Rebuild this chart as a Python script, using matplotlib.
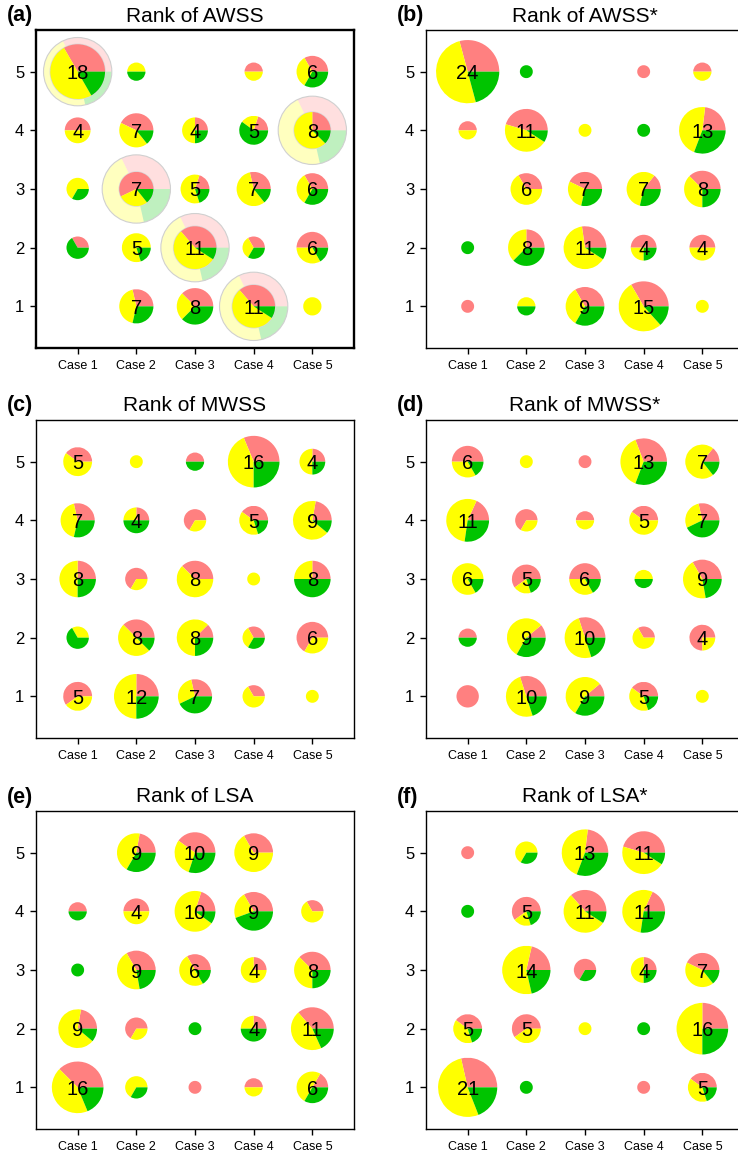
import numpy as np
import matplotlib.pyplot as plt
from matplotlib.patches import Wedge, Circle

plt.rcParams['font.family'] = ['Liberation Sans', 'DejaVu Sans']

cases = ['Case 1', 'Case 2', 'Case 3', 'Case 4', 'Case 5']
ranks = [5, 4, 3, 2, 1]          # rows of the tables below, top to bottom
colors = ['#ff8080', '#ffff00', '#00c400']

# counts per (rank, case): red / yellow / green events
awss_red = [[6, 0, 0, 1, 2], [2, 3, 1, 1, 2], [0, 4, 1, 2, 2], [1, 0, 4, 1, 3], [0, 2, 3, 4, 0]]
awss_yel = [[9, 1, 0, 1, 2], [2, 3, 2, 1, 5], [2, 2, 3, 4, 2], [0, 4, 6, 1, 2], [0, 3, 2, 6, 2]]
awss_grn = [[3, 1, 0, 0, 2], [0, 1, 1, 3, 1], [1, 1, 1, 1, 2], [2, 1, 1, 1, 1], [0, 2, 3, 1, 0]]

awss2_red = [[7, 0, 0, 1, 1], [1, 5, 0, 0, 3], [0, 2, 3, 1, 3], [0, 2, 3, 2, 2], [1, 0, 3, 5, 0]]
awss2_yel = [[12, 0, 0, 0, 1], [1, 5, 1, 0, 6], [0, 4, 2, 4, 3], [0, 3, 7, 1, 2], [0, 1, 3, 8, 1]]
awss2_grn = [[5, 1, 0, 0, 0], [0, 1, 0, 1, 4], [0, 0, 2, 2, 2], [1, 3, 1, 1, 0], [0, 1, 3, 2, 0]]

mwss_red = [[2, 0, 1, 5, 1], [2, 1, 2, 2, 2], [2, 2, 3, 0, 2], [0, 3, 1, 1, 4], [3, 3, 2, 1, 0]]
mwss_yel = [[3, 1, 0, 7, 2], [3, 1, 1, 2, 6], [4, 1, 5, 1, 2], [1, 4, 5, 1, 2], [2, 6, 2, 2, 1]]
mwss_grn = [[0, 0, 1, 4, 1], [2, 2, 0, 1, 1], [2, 0, 0, 0, 4], [2, 1, 2, 1, 0], [0, 3, 3, 0, 0]]

mwss2_red = [[3, 0, 1, 4, 1], [2, 2, 1, 2, 2], [0, 3, 3, 0, 3], [1, 1, 3, 1, 3], [3, 3, 1, 2, 0]]
mwss2_yel = [[2, 1, 0, 5, 5], [6, 1, 1, 3, 2], [5, 1, 2, 1, 4], [0, 5, 5, 2, 1], [0, 5, 5, 2, 1]]
mwss2_grn = [[1, 0, 0, 4, 1], [3, 0, 0, 0, 3], [1, 1, 1, 1, 2], [1, 3, 2, 0, 0], [0, 2, 3, 1, 0]]

lsa_red = [[0, 2, 4, 3, 0], [1, 2, 2, 3, 1], [0, 3, 2, 1, 3], [2, 2, 0, 1, 4], [6, 0, 1, 1, 1]]
lsa_yel = [[0, 4, 3, 6, 0], [0, 2, 7, 2, 2], [0, 4, 3, 3, 3], [6, 1, 0, 1, 5], [7, 2, 0, 1, 3]]
lsa_grn = [[0, 3, 3, 0, 0], [1, 0, 1, 4, 0], [1, 2, 1, 0, 2], [1, 0, 1, 2, 2], [3, 1, 0, 0, 2]]

lsa2_red = [[1, 0, 3, 5, 0], [0, 3, 4, 2, 0], [0, 3, 2, 1, 3], [2, 3, 0, 0, 4], [6, 0, 0, 1, 2]]
lsa2_yel = [[0, 2, 6, 5, 0], [0, 1, 6, 6, 0], [0, 8, 0, 2, 3], [2, 2, 1, 0, 8], [11, 0, 0, 0, 2]]
lsa2_grn = [[0, 1, 4, 1, 0], [1, 1, 1, 3, 0], [0, 3, 1, 1, 1], [1, 0, 0, 1, 4], [4, 1, 0, 0, 1]]

# (case, rank) cells of panel (a) drawn with the full-sample pie behind them
awss_marked = [(1, 5), (2, 3), (3, 2), (4, 1), (5, 4)]

panels = [
    ('(a)', 'Rank of AWSS', awss_red, awss_yel, awss_grn),
    ('(b)', 'Rank of AWSS*', awss2_red, awss2_yel, awss2_grn),
    ('(c)', 'Rank of MWSS', mwss_red, mwss_yel, mwss_grn),
    ('(d)', 'Rank of MWSS*', mwss2_red, mwss2_yel, mwss2_grn),
    ('(e)', 'Rank of LSA', lsa_red, lsa_yel, lsa_grn),
    ('(f)', 'Rank of LSA*', lsa2_red, lsa2_yel, lsa2_grn),
]

W, H = 738, 1156
fig = plt.figure(figsize=(W / 100, H / 100), dpi=100)

lefts = [36, 426]
tops = [30, 420, 811]
size = 318
r_unit = 0.11   # pie radius = r_unit * sqrt(count)


def draw_pie(ax, x, y, counts, radius, alpha=1.0, z=2):
    total = sum(counts)
    start = 0.0
    for n, c in zip(counts, colors):
        if n == 0:
            continue
        end = start + 360.0 * n / total
        ax.add_patch(Wedge((x, y), radius, start, end, facecolor=c,
                           edgecolor='none', alpha=alpha, zorder=z))
        start = end


for k, (letter, title, red, yel, grn) in enumerate(panels):
    row, col = divmod(k, 2)
    left, top = lefts[col], tops[row]
    ax = fig.add_axes([left / W, 1 - (top + size) / H, size / W, size / H])
    ax.set_xlim(0.29, 5.71)
    ax.set_ylim(0.29, 5.71)
    ax.set_xticks(range(1, 6))
    ax.set_xticklabels(cases)
    ax.set_yticks(range(1, 6))
    ax.tick_params(axis='x', length=4.5, width=1, labelsize=9, pad=4)
    ax.tick_params(axis='y', length=4.5, width=1, labelsize=12, pad=4)
    for s in ax.spines.values():
        s.set_linewidth(1.7 if k == 0 else 1.0)

    red = np.array(red)
    yel = np.array(yel)
    grn = np.array(grn)
    totals = red + yel + grn
    col_sums = [red[:, 0].sum(), yel[:, 0].sum(), grn[:, 0].sum()]

    for i, rank in enumerate(ranks):
        for j in range(5):
            n = totals[i, j]
            if n == 0:
                continue
            x = j + 1
            if k == 0 and (x, rank) in awss_marked:
                big = r_unit * np.sqrt(sum(col_sums))
                draw_pie(ax, x, rank, col_sums, big, alpha=0.25, z=1)
                ax.add_patch(Circle((x, rank), big, facecolor='none',
                                    edgecolor='#d0d0d0', lw=0.8, zorder=1))
                ax.add_patch(Circle((x, rank), r_unit * np.sqrt(n), facecolor='none',
                                    edgecolor='#d8d8d8', lw=1.0, zorder=1.5))
            draw_pie(ax, x, rank, [red[i, j], yel[i, j], grn[i, j]], r_unit * np.sqrt(n))
            if n >= 4:
                ax.text(x, rank, str(n), ha='center', va='center_baseline',
                        fontsize=14.5, zorder=3)

    fig.text((left + size / 2) / W, 1 - (top - 14) / H, title,
             ha='center', va='center', fontsize=15)
    fig.text((left - 29) / W, 1 - (top - 14) / H, letter,
             ha='left', va='center', fontsize=15.5, fontweight='bold')

fig.savefig('out.png', dpi=100)
